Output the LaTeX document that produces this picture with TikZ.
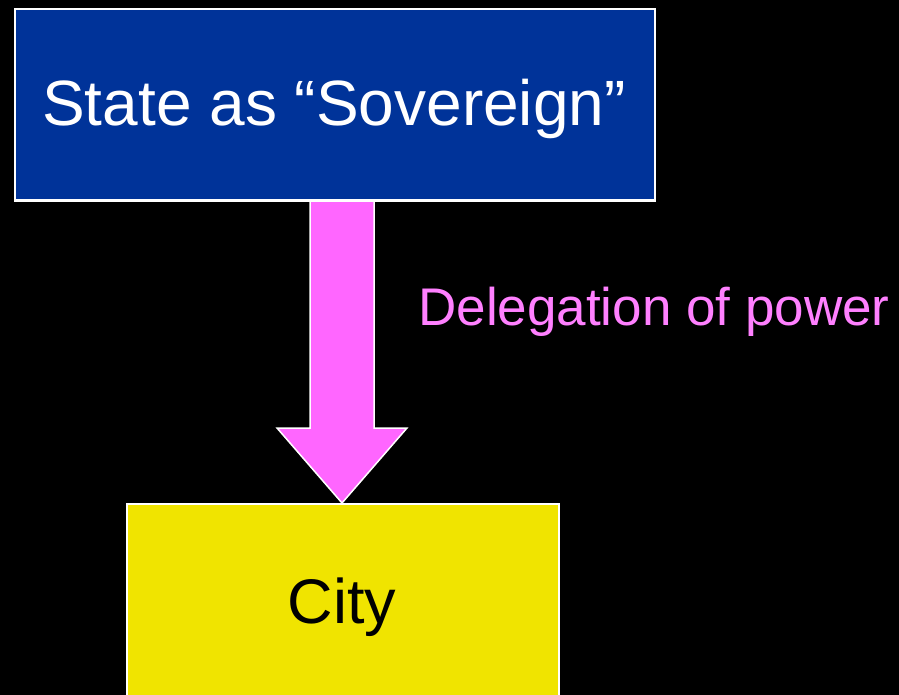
\documentclass[tikz,border=0pt]{standalone}
\usepackage{fontspec}
\setmainfont{Liberation Sans}
\usetikzlibrary{calc}
\definecolor{sovblue}{HTML}{003399}
\definecolor{cityyellow}{HTML}{F0E400}
\definecolor{arrowpink}{HTML}{FF66FF}
\definecolor{labelpink}{HTML}{FF80FF}
\begin{document}
\begin{tikzpicture}[x=1pt,y=1pt,
  box/.style={draw=white,line width=2pt,inner sep=0pt,anchor=north west},
  bigtext/.style={font=\fontsize{63}{76}\selectfont,anchor=base,inner sep=0pt}]
\fill[black] (0,0) rectangle (899,-695);
\useasboundingbox (0,0) rectangle (899,-695);
\node[box,fill=sovblue,minimum width=640pt,minimum height=191pt] (sov) at (14,-8) {};
\node[text=white,bigtext,font=\fontsize{64}{77}\selectfont] (sovtext) at (334,-126) {State as “Sovereign”};
\begin{scope}
\clip (0,0) rectangle (899,-695);
\node[box,fill=cityyellow,minimum width=432pt,minimum height=230pt] (cityb) at (126,-503) {};
\end{scope}
\node[text=black,bigtext] (city) at (342,-623) {City};
\coordinate (tip) at (cityb.north -| city);
\coordinate (tail) at (sov.south -| city);
\draw[white,line width=1.5pt,fill=arrowpink,line join=miter]
  ($(tail)+(-32,0)$) -- ($(tail)+(32,0)$) -- ($(tip)+(32,75)$) -- ($(tip)+(65,75)$)
  -- (tip) -- ($(tip)+(-65,75)$) -- ($(tip)+(-32,75)$) -- cycle;
\draw[white,line width=2pt] (sov.south west) -- (sov.south east);
\node[text=labelpink,font=\fontsize{53}{64}\selectfont,anchor=base,inner sep=0pt] (lbl) at (654,-325) {Delegation of power};
\end{tikzpicture}
\end{document}
